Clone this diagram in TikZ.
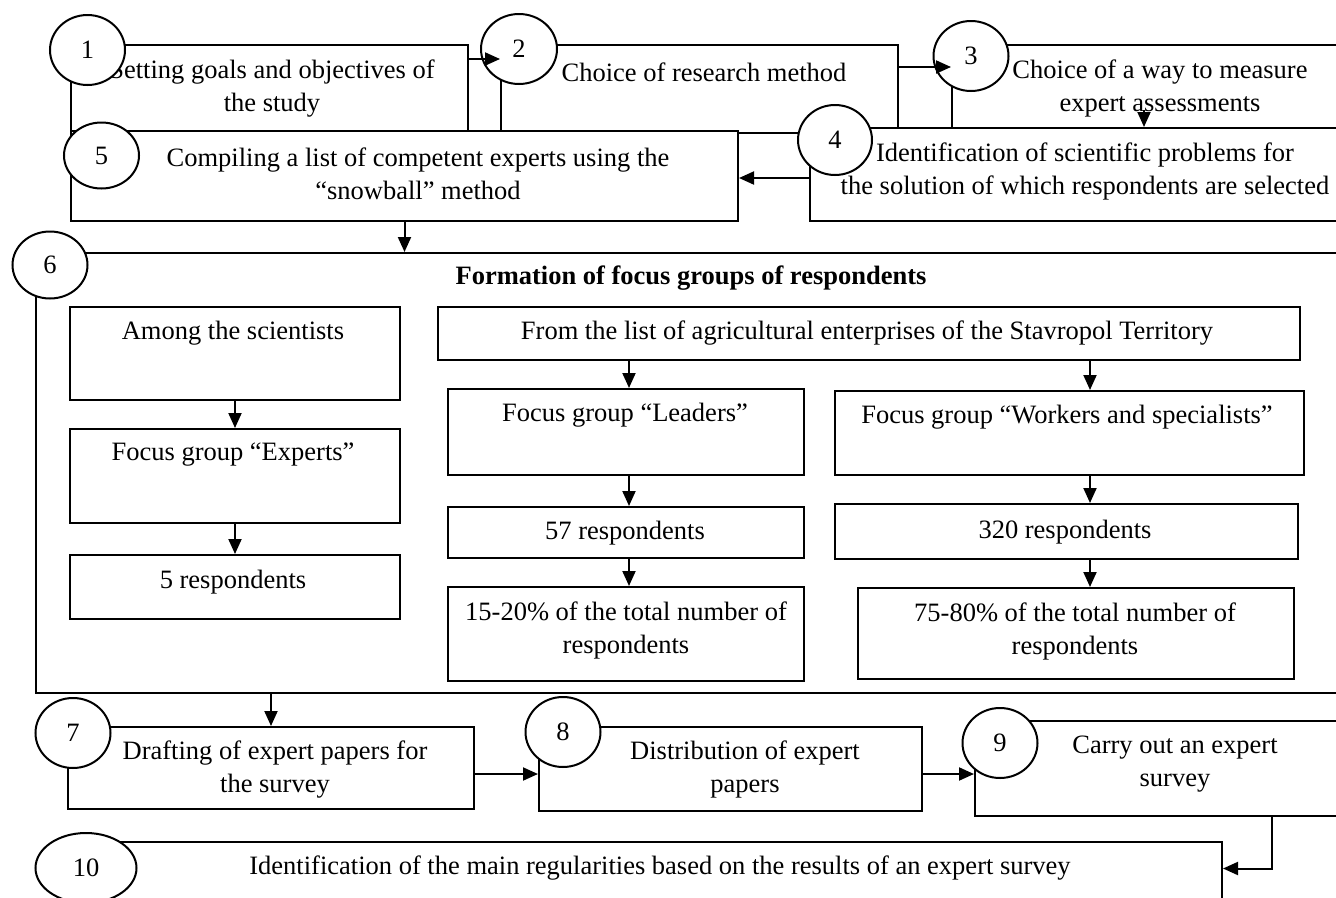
\documentclass[tikz,border=0pt]{standalone}
\usepackage{fontspec}
\setmainfont{Liberation Serif}
\usetikzlibrary{arrows.meta,shapes.geometric}
\newcommand{\mybox}[5]{\node[box, anchor=north west, minimum width={(#4-#2)*1pt}, minimum height={(#5-#3)*1pt}] (#1) at (#2,#3) {};}
\begin{document}
\begin{tikzpicture}[x=1pt,y=-1pt,
  box/.style={draw, fill=white, line width=2pt, inner sep=0pt},
  txt/.style={align=center, inner sep=0pt, font=\fontsize{26.5}{33}\selectfont},
  circ/.style={ellipse, draw, fill=white, line width=2pt, inner sep=0pt, font=\fontsize{26.5}{33}\selectfont},
  arr/.style={line width=2pt, -{Triangle[length=15pt,width=13pt]}}]
\useasboundingbox (0,0) rectangle (1336,897);
\clip (0,0) rectangle (1336,897);
% row 1
\mybox{b1}{70}{44}{467}{132}
\mybox{b2}{500}{44}{897}{132}
\mybox{b3}{951}{44}{1400}{130}
\node[txt] (t1) at (272,88.5) {Setting goals and objectives of\\the study};
\node[txt] (t2) at (704,72) {Choice of research method};
\node[txt] (t3) at (1160,88.5) {Choice of a way to measure\\expert assessments};
\node[circ, minimum width=75pt, minimum height=70pt] (c1) at (87.5,50) {1};
\node[circ, minimum width=76pt, minimum height=70pt] (c2) at (519,49) {2};
\node[circ, minimum width=75pt, minimum height=70pt] (c3) at (971,56) {3};
\draw[arr] ([yshift=-15pt]b1.north east) -- ([yshift=-15pt]b2.north west);
\draw[arr] ([yshift=-23pt]b2.north east) -- ([yshift=-23pt]b3.north west);
% row 2
\mybox{b5}{70}{130}{737}{220}
\mybox{b4}{809}{127}{1400}{220}
\node[txt] (t5) at (418,173.5) {Compiling a list of competent experts using the\\“snowball” method};
\node[txt] (t4) at (1085,171) {Identification of scientific problems for\\the solution of which respondents are selected};
\node[circ, minimum width=75pt, minimum height=66pt] (c5) at (101.5,155.5) {5};
\node[circ, minimum width=74pt, minimum height=70pt] (c4) at (835,140) {4};
\coordinate (a34) at (1144,110);
\draw[arr] (a34) -- (a34 |- b4.north);
\draw[arr] ([yshift=-3.5pt]b4.west) -- ([yshift=-3.5pt]b4.west -| b5.east);
% box 6
\mybox{b6}{35}{252}{1400}{692}
\node[txt, font=\fontsize{26.5}{33}\selectfont\bfseries] (title) at (691,278) {Formation of focus groups of respondents};
\mybox{among}{69}{306}{399}{399}
\mybox{experts}{69}{428}{399}{522}
\mybox{r5}{69}{554}{399}{618}
\mybox{from}{437}{306}{1299}{359}
\mybox{leaders}{447}{388}{803}{474}
\mybox{workers}{834}{390}{1303}{474}
\mybox{r57}{447}{506}{803}{557}
\mybox{r320}{834}{503}{1297}{558}
\mybox{p1520}{447}{586}{803}{680}
\mybox{p7580}{857}{587}{1293}{678}
\node[txt] (tamong) at (233,333) {Among the scientists};
\node[txt] (texperts) at (233,455) {Focus group “Experts”};
\node[txt] (tr5) at (233,582) {5 respondents};
\node[txt] (tfrom) at (867,333) {From the list of agricultural enterprises of the Stavropol Territory};
\node[txt] (tleaders) at (625,415) {Focus group “Leaders”};
\node[txt] (tworkers) at (1067,417) {Focus group “Workers and specialists”};
\node[txt] (tr57) at (625,533) {57 respondents};
\node[txt] (tr320) at (1065,532) {320 respondents};
\node[txt] (tp1520) at (626,630) {15-20\% of the total number of\\respondents};
\node[txt] (tp7580) at (1075,631.5) {75-80\% of the total number of\\respondents};
\node[circ, minimum width=75pt, minimum height=67pt] (c6) at (50,265) {6};
\draw[arr] (b5.south) -- (b5.south |- b6.north);
\draw[arr] (among.south) -- (experts.north);
\draw[arr] (experts.south) -- (r5.north);
\coordinate (lx) at (629,0);
\coordinate (wx) at (1090,0);
\draw[arr] (from.south -| lx) -- (leaders.north -| lx);
\draw[arr] (from.south -| wx) -- (workers.north -| wx);
\draw[arr] (leaders.south -| lx) -- (r57.north -| lx);
\draw[arr] (workers.south -| wx) -- (r320.north -| wx);
\draw[arr] (r57.south -| lx) -- (p1520.north -| lx);
\draw[arr] (r320.south -| wx) -- (p7580.north -| wx);
% bottom rows
\mybox{b7}{67}{726}{473}{808}
\mybox{b8}{538}{726}{921}{810}
\mybox{b9}{974}{720}{1400}{815}
\mybox{b10}{100}{841}{1221}{910}
\node[txt] (t7) at (275,770) {Drafting of expert papers for\\the survey};
\node[txt] (t8) at (745,769.5) {Distribution of expert\\papers};
\node[txt] (t9) at (1175,764.5) {Carry out an expert\\survey};
\node[txt] (t10) at (660,868) {Identification of the main regularities based on the results of an expert survey};
\node[circ, minimum width=75pt, minimum height=70pt] (c7) at (73,733) {7};
\node[circ, minimum width=75pt, minimum height=70pt] (c8) at (563,732) {8};
\node[circ, minimum width=75pt, minimum height=70pt] (c9) at (1000,743) {9};
\node[circ, minimum width=101pt, minimum height=70pt] (c10) at (86,868) {10};
\draw[arr] (b7.north |- b6.south) -- (b7.north);
\draw[arr] ([yshift=-6pt]b7.east) -- ([yshift=-6pt]b7.east -| b8.west);
\draw[arr] ([yshift=-6pt]b7.east -| b8.east) -- ([yshift=-6pt]b7.east -| b9.west);
\coordinate (k9) at (1272,0);
\draw[arr] (b9.south -| k9) |- ([yshift=8pt]b10.east);
\end{tikzpicture}
\end{document}
